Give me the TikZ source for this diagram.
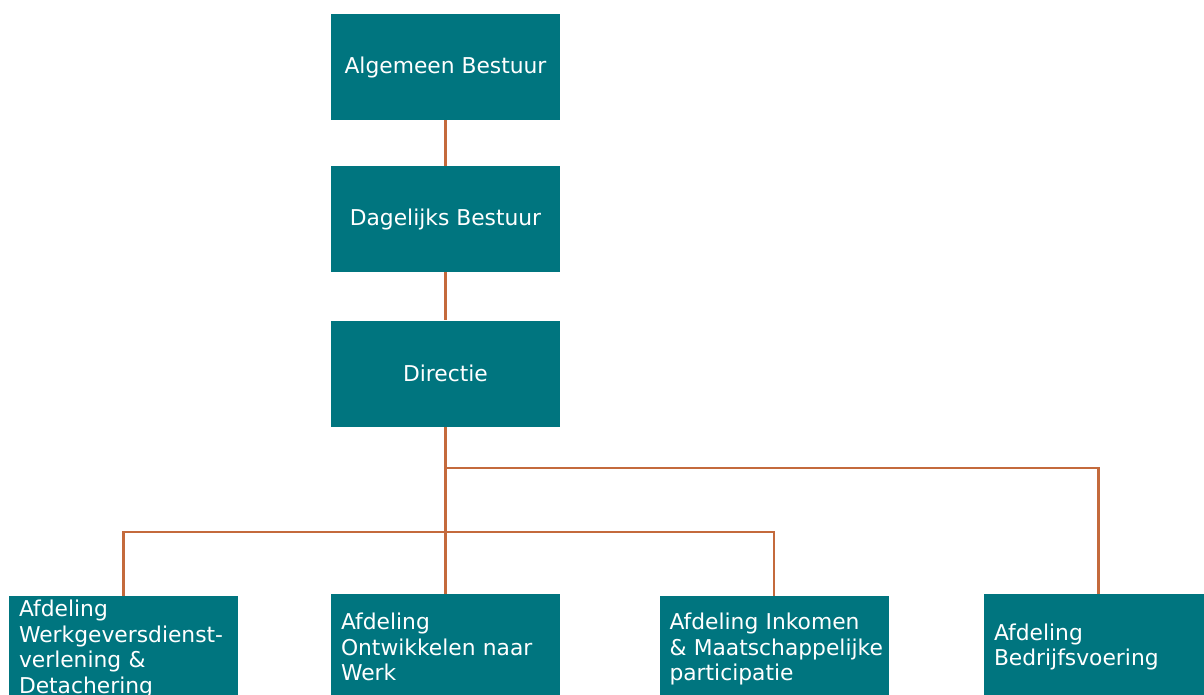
\documentclass[tikz,border=0pt]{standalone}
\usepackage{fontspec}
\setmainfont{DejaVu Sans}
\hyphenpenalty=10000
\definecolor{teal}{HTML}{00757F}
\definecolor{lijn}{HTML}{C46A3C}
\tikzset{
    box/.style={fill=teal, text=white, minimum width=229pt, minimum height=106pt,
        inner sep=0pt, font=\fontsize{21.8}{25.5}\selectfont},
    afd/.style={box, inner xsep=10pt, text width=209pt, align=left},
    conn/.style={draw=lijn, line width=2.8pt}
}
\begin{document}
\begin{tikzpicture}[x=1pt,y=-1pt]
		\useasboundingbox (0,0) rectangle (1204,695);
		\clip (0,0) rectangle (1204,695);

		\node[box] (ab) at (445.5,67) {Algemeen Bestuur};
		\node[box] (db) at (445.5,219) {Dagelijks Bestuur};
		\node[box] (dir) at (445.5,373.5) {Directie};

		\node[afd] (wgd) at (123.5,649) {Afdeling\\Werkgeversdienst-\\verlening \&\\Detachering};
		\node[afd] (onw) at (445.5,647) {Afdeling\\Ontwikkelen naar\\Werk};
		\node[afd] (ink) at (774,649) {Afdeling Inkomen\\\&~Maatschappelijke\\participatie};
		\node[afd] (bdv) at (1098.5,647) {Afdeling\\Bedrijfsvoering};

		\coordinate (rbus) at (445.5,468);
		\coordinate (lbus) at (445.5,532);

		% lines
		\draw[conn] (ab) -- (db);
		\draw[conn] (db) -- (dir);
		\draw[conn] (dir) -- (onw);
		\draw[conn] (rbus) -| (bdv.north);
		\draw[conn] (wgd.north) |- (lbus) -| (ink.north);
    \end{tikzpicture}
\end{document}
